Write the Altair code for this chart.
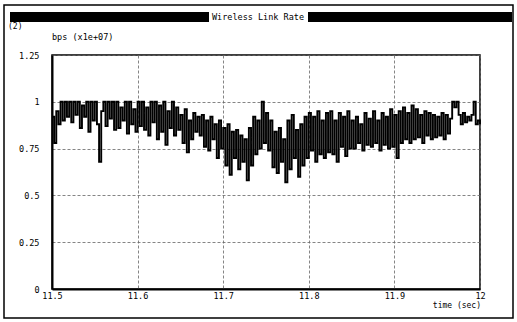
import altair as alt
import pandas as pd

# --- data ---
t_start = 11.5
dt = 0.0025
rate = [
    0.92, 0.78, 0.95, 0.88, 1.00, 0.90, 1.00, 0.92, 1.00, 0.89,
    1.00, 0.93, 1.00, 0.86, 0.98, 0.92, 1.00, 0.84, 1.00, 0.90,
    1.00, 0.88, 0.68, 0.95, 1.00, 0.87, 1.00, 0.91, 1.00, 0.85,
    1.00, 0.86, 0.97, 0.90, 1.00, 0.83, 1.00, 0.88, 0.96, 0.84,
    1.00, 0.87, 1.00, 0.85, 0.97, 0.82, 1.00, 0.89, 1.00, 0.80,
    0.98, 0.84, 1.00, 0.77, 0.95, 0.86, 1.00, 0.82, 0.97, 0.85,
    0.93, 0.78, 0.96, 0.73, 0.90, 0.80, 0.94, 0.84, 0.92, 0.82,
    0.93, 0.76, 0.90, 0.74, 0.92, 0.80, 0.88, 0.70, 0.90, 0.75,
    0.86, 0.66, 0.88, 0.61, 0.84, 0.70, 0.85, 0.64, 0.82, 0.68,
    0.80, 0.58, 0.86, 0.66, 0.92, 0.72, 0.90, 0.75, 1.00, 0.78,
    0.94, 0.74, 0.90, 0.65, 0.84, 0.62, 0.86, 0.68, 0.80, 0.57,
    0.90, 0.64, 0.93, 0.70, 0.85, 0.60, 0.88, 0.66, 0.92, 0.70,
    0.94, 0.74, 0.92, 0.68, 0.95, 0.72, 0.90, 0.70, 0.94, 0.73,
    0.95, 0.72, 0.90, 0.68, 0.94, 0.76, 0.92, 0.71, 0.95, 0.75,
    0.90, 0.75, 0.92, 0.78, 0.88, 0.74, 0.94, 0.77, 0.91, 0.76,
    0.95, 0.78, 0.90, 0.74, 0.94, 0.77, 0.92, 0.75, 0.96, 0.76,
    0.93, 0.70, 0.95, 0.78, 0.97, 0.80, 0.94, 0.78, 0.98, 0.80,
    0.96, 0.81, 0.93, 0.78, 0.95, 0.82, 0.94, 0.80, 0.93, 0.81,
    0.92, 0.82, 0.94, 0.80, 0.93, 0.83, 0.91, 1.00, 0.97, 1.00,
    0.93, 0.88, 0.94, 0.89, 0.92, 0.90, 0.93, 1.00, 0.88, 0.90,
    0.88,
]
x_ticks = [11.5, 11.6, 11.7, 11.8, 11.9, 12.0]
y_ticks = [0, 0.25, 0.5, 0.75, 1.0, 1.25]
title_text = "Wireless Link Rate"
y_label = "bps (x1e+07)"
x_label = "time (sec)"
corner = "(2)"

times = [round(t_start + i * dt, 5) for i in range(len(rate))]
df = pd.DataFrame({"t": times, "v": rate})
one = pd.DataFrame({"k": [0]})

FONT = "DejaVu Sans Mono"
W, H = 428, 234

line = alt.Chart(df).mark_line(
    interpolate="step-after", color="black", strokeWidth=1.9
).encode(
    x=alt.X("t:Q", scale=alt.Scale(domain=[11.5, 12.0], nice=False),
            axis=alt.Axis(values=x_ticks, title=None, labelExpr="toString(datum.value)",
                          labelFlush=False, labelPadding=2)),
    y=alt.Y("v:Q", scale=alt.Scale(domain=[0, 1.25], nice=False),
            axis=alt.Axis(values=y_ticks, title=None, labelExpr="toString(datum.value)",
                          labelFlush=False, labelPadding=13)),
)

outer = alt.Chart(one).mark_rect(
    fill=None, stroke="black", strokeWidth=1.5
).encode(x=alt.value(-48), x2=alt.value(461), y=alt.value(-50), y2=alt.value(263))

bar = alt.Chart(one).mark_rect(color="black").encode(
    x=alt.value(-42), x2=alt.value(460), y=alt.value(-43), y2=alt.value(-33))
bar_box = alt.Chart(one).mark_rect(color="white").encode(
    x=alt.value(157), x2=alt.value(256), y=alt.value(-43), y2=alt.value(-33))
bar_text = alt.Chart(one).mark_text(
    text=title_text, font=FONT, fontSize=8.5, color="black", align="center", baseline="middle"
).encode(x=alt.value(206), y=alt.value(-38))

corner_text = alt.Chart(one).mark_text(
    text=corner, font=FONT, fontSize=8, color="black", align="left", baseline="middle"
).encode(x=alt.value(-44), y=alt.value(-28))

ylab = alt.Chart(one).mark_text(
    text=y_label, font=FONT, fontSize=8.5, color="black", align="left", baseline="middle"
).encode(x=alt.value(0), y=alt.value(-18))

xlab = alt.Chart(one).mark_text(
    text=x_label, font=FONT, fontSize=8, color="black", align="right", baseline="middle"
).encode(x=alt.value(429), y=alt.value(251))

chart = alt.layer(outer, bar, bar_box, bar_text, corner_text, ylab, xlab, line).properties(
    width=W, height=H,
    autosize=alt.AutoSizeParams(type="none"),
    padding={"left": 52, "top": 55, "right": 37, "bottom": 33},
    background="white",
).configure_view(
    stroke="black", strokeWidth=1.5
).configure_axis(
    labelFont=FONT, labelFontSize=8.5, labelColor="black",
    ticks=False, domainColor="black", domainWidth=2,
    grid=True, gridColor="#666", gridDash=[3, 2], gridWidth=0.8, gridOpacity=1,
)

chart.save("out.html", embed_options={"renderer": "svg", "actions": False})
